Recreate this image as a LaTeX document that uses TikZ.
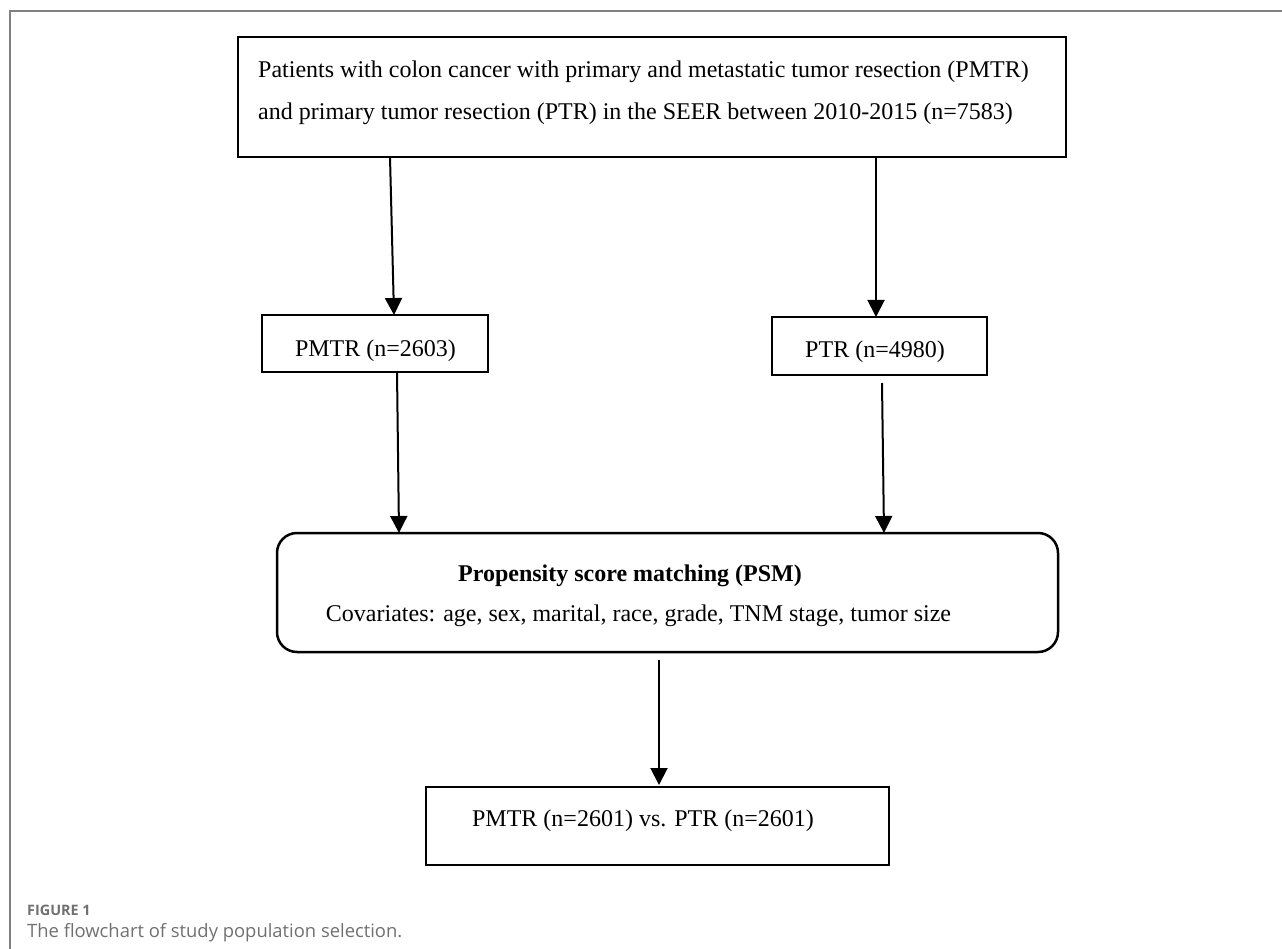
\documentclass[tikz,border=0pt]{standalone}
\usepackage{fontspec}
\setmainfont{Liberation Serif}
\newfontfamily\capfont{Open Sans}
\usetikzlibrary{arrows.meta}
\definecolor{framegray}{HTML}{808080}
\definecolor{capgray}{HTML}{707070}
\begin{document}
\begin{tikzpicture}[x=1pt,y=-1pt,
  boxstyle/.style={draw=black,line width=2.5pt,inner sep=0pt},
  txt/.style={inner sep=0pt,anchor=base,font=\fontsize{24}{28}\selectfont},
  conn/.style={line width=2pt,-{Triangle[width=17pt,length=17pt]}}]
\useasboundingbox (0,0) rectangle (1282,949);
% frame
\coordinate (fr1) at (10,949);
\coordinate (fr2) at (10,11);
\coordinate (fr3) at (1282,11);
\draw[framegray,line width=1.5pt] (fr1) -- (fr2) -- (fr3);
% boxes
\node[boxstyle,minimum width=828pt,minimum height=120pt] (top) at (652,97) {};
\node[txt,anchor=base west] (t1) at (258,78) {Patients with colon cancer with primary and metastatic tumor resection (PMTR)};
\node[txt,anchor=base west] (t2) at (258,120) {and primary tumor resection (PTR) in the SEER between 2010-2015 (n=7583)};
\node[boxstyle,minimum width=226pt,minimum height=57pt] (pmtr) at (375,343.5) {};
\node[txt] (pmtrt) at (375.5,356) {PMTR (n=2603)};
\node[boxstyle,minimum width=215pt,minimum height=58pt] (ptr) at (879.5,346) {};
\node[txt] (ptrt) at (875,358) {PTR (n=4980)};
\node[boxstyle,rounded corners=20pt,minimum width=781pt,minimum height=119pt] (psm) at (667.5,592.5) {};
\node[txt,font=\fontsize{24}{28}\selectfont\bfseries] (psm1) at (630,581) {Propensity score matching (PSM)};
\node[txt] (psm2) at (638.5,621) {Covariates: age, sex, marital, race, grade, TNM stage, tumor size};
\node[boxstyle,minimum width=463pt,minimum height=78pt] (fin) at (657.5,826) {};
\node[txt] (fint) at (643,826) {PMTR (n=2601) vs. PTR (n=2601)};
% connector ends
\coordinate (a1s) at (390,157);  \coordinate (a1e) at (394,315);
\coordinate (a2s) at (876,157);  \coordinate (a2e) at (876,317);
\coordinate (a3s) at (397,372);  \coordinate (a3e) at (399,533);
\coordinate (a4s) at (882,383);  \coordinate (a4e) at (884,533);
\coordinate (a5s) at (659,660);  \coordinate (a5e) at (659,785);
\draw[conn] (a1s) -- (a1e);
\draw[conn] (a2s) -- (a2e);
\draw[conn] (a3s) -- (a3e);
\draw[conn] (a4s) -- (a4e);
\draw[conn] (a5s) -- (a5e);
% caption
\node[inner sep=0pt,anchor=base west,text=capgray,font=\capfont\fontsize{14.4}{16}\selectfont\bfseries] (cap1) at (27,915) {FIGURE 1};
\node[inner sep=0pt,anchor=base west,text=capgray,font=\capfont\fontsize{18.4}{21}\selectfont] (cap2) at (27,937) {The flowchart of study population selection.};
\end{tikzpicture}
\end{document}
